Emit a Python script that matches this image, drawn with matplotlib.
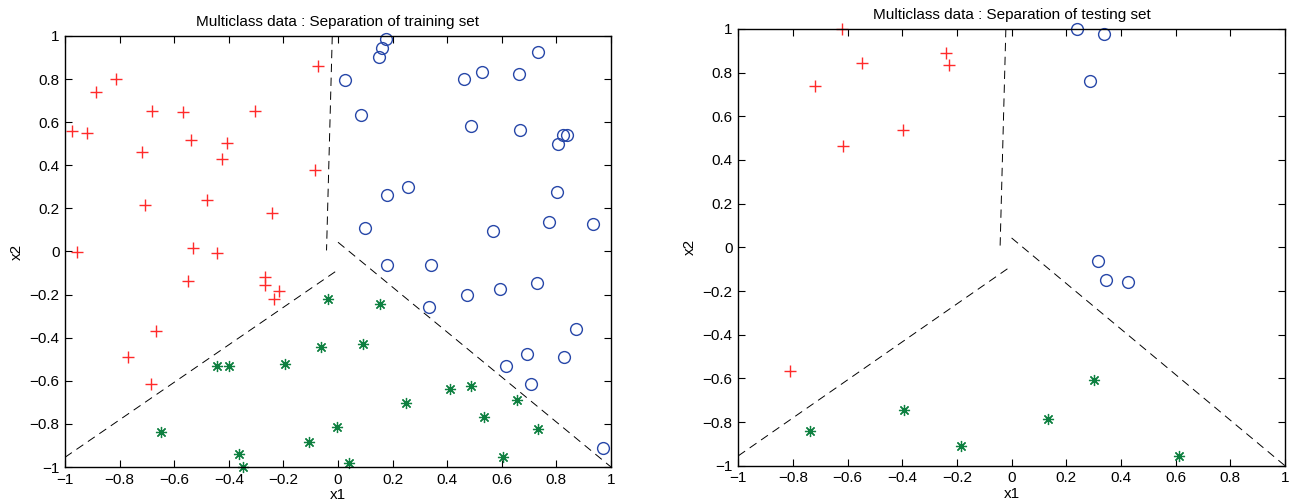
import numpy as np
import matplotlib
matplotlib.use("Agg")
import matplotlib.pyplot as plt

plt.rcParams['font.family'] = ['Liberation Sans', 'DejaVu Sans']
plt.rcParams['lines.scale_dashes'] = False

# training set
train_red_x1 = [-0.975, -0.921, -0.885, -0.814, -0.682, -0.569, -0.718, -0.538, -0.408, -0.426,
                -0.303, -0.072, -0.083, -0.708, -0.481, -0.241, -0.957, -0.532, -0.444, -0.548,
                -0.267, -0.267, -0.215, -0.234, -0.668, -0.769, -0.686]
train_red_x2 = [0.561, 0.548, 0.742, 0.802, 0.653, 0.647, 0.462, 0.516, 0.505, 0.429,
                0.653, 0.859, 0.378, 0.217, 0.238, 0.177, -0.004, 0.015, -0.007, -0.137,
                -0.117, -0.155, -0.182, -0.220, -0.370, -0.488, -0.613]

train_green_x1 = [-0.038, -0.064, -0.444, -0.400, -0.194, -0.650, -0.362, -0.348, -0.105, -0.004,
                  0.154, 0.090, 0.039, 0.250, 0.410, 0.486, 0.535, 0.656, 0.731, 0.604]
train_green_x2 = [-0.220, -0.442, -0.531, -0.531, -0.524, -0.836, -0.938, -0.999, -0.883, -0.813,
                  -0.245, -0.428, -0.983, -0.704, -0.638, -0.623, -0.769, -0.689, -0.824, -0.954]

train_blue_x1 = [0.178, 0.342, 0.333, 0.471, 0.594, 0.729, 0.872, 0.692, 0.829, 0.614, 0.707,
                 0.971, 0.176, 0.160, 0.151, 0.027, 0.085, 0.460, 0.527, 0.664, 0.734, 0.486,
                 0.667, 0.825, 0.839, 0.806, 0.802, 0.255, 0.178, 0.100, 0.568, 0.772, 0.935]
train_blue_x2 = [-0.061, -0.064, -0.258, -0.200, -0.175, -0.145, -0.358, -0.474, -0.490, -0.530,
                 -0.615, -0.912, 0.985, 0.944, 0.901, 0.796, 0.633, 0.799, 0.833, 0.824, 0.924,
                 0.581, 0.564, 0.539, 0.539, 0.497, 0.278, 0.299, 0.261, 0.109, 0.094, 0.137, 0.128]

# testing set
test_red_x1 = [-0.620, -0.719, -0.549, -0.618, -0.396, -0.241, -0.228, -0.811]
test_red_x2 = [1.0, 0.739, 0.844, 0.466, 0.536, 0.889, 0.834, -0.565]

test_green_x1 = [-0.737, -0.393, -0.184, 0.301, 0.135, 0.611]
test_green_x2 = [-0.840, -0.743, -0.911, -0.609, -0.788, -0.954]

test_blue_x1 = [0.317, 0.345, 0.426, 0.240, 0.337, 0.288]
test_blue_x2 = [-0.064, -0.150, -0.160, 1.0, 0.977, 0.760]

# separating lines (end points)
line_a_x1 = [-0.021, -0.042]
line_a_x2 = [1.0, 0.005]
line_b_x1 = [-1.0, 0.0]
line_b_x2 = [-0.955, -0.085]
line_c_x1 = [0.0, 1.0]
line_c_x2 = [0.043, -1.0]

ticks = np.round(np.arange(-1, 1.01, 0.2), 1)
tick_labels = ['\u22121', '\u22120.8', '\u22120.6', '\u22120.4', '\u22120.2', '0',
               '0.2', '0.4', '0.6', '0.8', '1']

RED = '#ff2a2a'
BLUE = '#2747a8'
GREEN = '#0e8040'


def draw(ax, red, green, blue, title):
    ax.plot(red[0], red[1], linestyle='none', marker='+', color=RED,
            markersize=8, markeredgewidth=1.0, clip_on=False)
    ax.plot(blue[0], blue[1], linestyle='none', marker='o', markerfacecolor='none',
            markeredgecolor=BLUE, markersize=8.5, markeredgewidth=1.0, clip_on=False)
    ax.plot(green[0], green[1], linestyle='none', marker=(8, 2, 0), color=GREEN,
            markersize=8, markeredgewidth=0.9, clip_on=False)
    for lx, ly in [(line_a_x1, line_a_x2), (line_b_x1, line_b_x2), (line_c_x1, line_c_x2)]:
        ax.plot(lx, ly, color='black', linewidth=0.7, dashes=(6, 4))
    ax.set_xlim(-1, 1)
    ax.set_ylim(-1, 1)
    ax.set_xticks(ticks)
    ax.set_yticks(ticks)
    ax.set_xticklabels(tick_labels)
    ax.set_yticklabels(tick_labels)
    ax.tick_params(direction='in', length=5, width=0.8, top=True, right=True,
                   labelsize=11, pad=4)
    for s in ax.spines.values():
        s.set_linewidth(1.0)
    ax.set_xlabel('x1', fontsize=11, labelpad=1)
    ax.set_ylabel('x2', fontsize=11, labelpad=4)
    ax.set_title(title, fontsize=11, pad=7)


fig = plt.figure(figsize=(12.97, 5.04), dpi=100)
ax1 = fig.add_axes([0.0501, 0.0734, 0.421, 0.8552])
ax2 = fig.add_axes([0.5692, 0.0760, 0.4215, 0.8665])

draw(ax1, (train_red_x1, train_red_x2), (train_green_x1, train_green_x2),
     (train_blue_x1, train_blue_x2), 'Multiclass data : Separation of training set')
draw(ax2, (test_red_x1, test_red_x2), (test_green_x1, test_green_x2),
     (test_blue_x1, test_blue_x2), 'Multiclass data : Separation of testing set')

fig.savefig('out.png', dpi=100)
